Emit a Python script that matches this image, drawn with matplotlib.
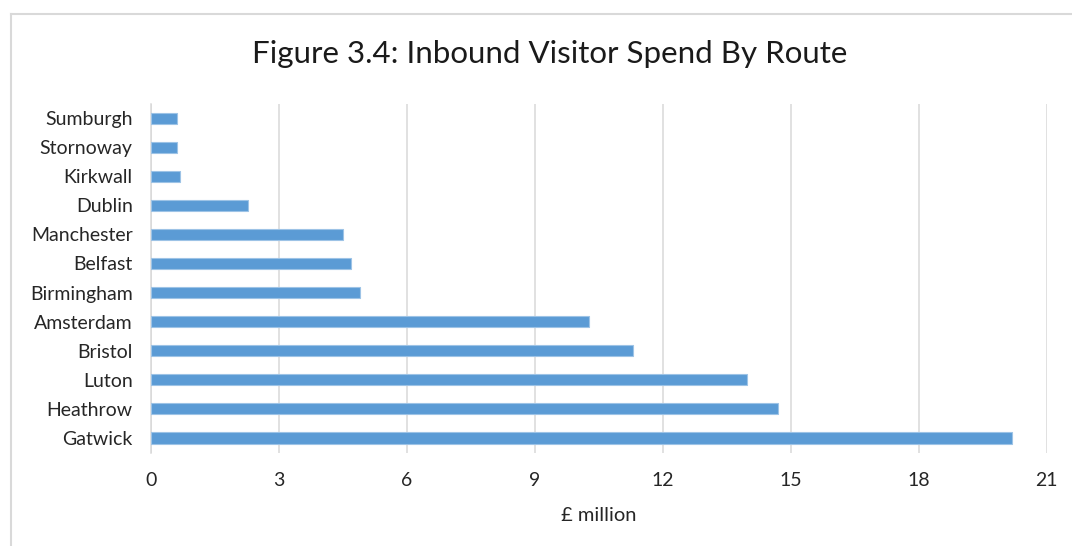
import matplotlib.pyplot as plt
from matplotlib.lines import Line2D

routes = ['Sumburgh', 'Stornoway', 'Kirkwall', 'Dublin', 'Manchester', 'Belfast',
          'Birmingham', 'Amsterdam', 'Bristol', 'Luton', 'Heathrow', 'Gatwick']
spend = [0.61, 0.61, 0.69, 2.29, 4.51, 4.69, 4.91, 10.28, 11.30, 13.98, 14.70, 20.19]
xticks = [0, 3, 6, 9, 12, 15, 18, 21]

plt.rcParams['font.family'] = ['Lato', 'DejaVu Sans']

fig = plt.figure(figsize=(10.72, 5.46), dpi=100)
ax = fig.add_axes([0.1406, 0.1712, 0.8358, 0.6392])

y = list(range(len(routes)))
ax.barh(y, spend, height=0.38, color='#5B9BD5', edgecolor='#9DC3E6', linewidth=0.8, zorder=3)
ax.set_ylim(len(routes) - 0.5, -0.5)
ax.set_xlim(0, 21)
ax.set_yticks(y)
ax.set_yticklabels(routes, fontsize=14, color='#262626')
ax.set_xticks(xticks)
ax.set_xticklabels([str(t) for t in xticks], fontsize=14, color='#262626')
ax.tick_params(axis='y', length=0, pad=13)
ax.tick_params(axis='x', length=0, pad=14)
ax.grid(axis='x', color='#D9D9D9', linewidth=1.1, zorder=0)
for s in ['top', 'right', 'bottom']:
    ax.spines[s].set_visible(False)
ax.spines['left'].set_color('#D9D9D9')
ax.spines['left'].set_linewidth(1.1)
ax.set_xlabel('£ million', fontsize=14.5, color='#262626', labelpad=13)

fig.text(0.513, 0.902, 'Figure 3.4: Inbound Visitor Spend By Route', ha='center', va='center',
         fontsize=22.5, color='#1a1a1a')

# outer chart border (top and left only visible)
fig.add_artist(Line2D([0.0105, 1.0], [0.9735, 0.9735], color='#D9D9D9', linewidth=1.5, transform=fig.transFigure))
fig.add_artist(Line2D([0.0105, 0.0105], [0.0, 0.9735], color='#D9D9D9', linewidth=1.5, transform=fig.transFigure))

fig.savefig('out.png', dpi=100, facecolor='white')
